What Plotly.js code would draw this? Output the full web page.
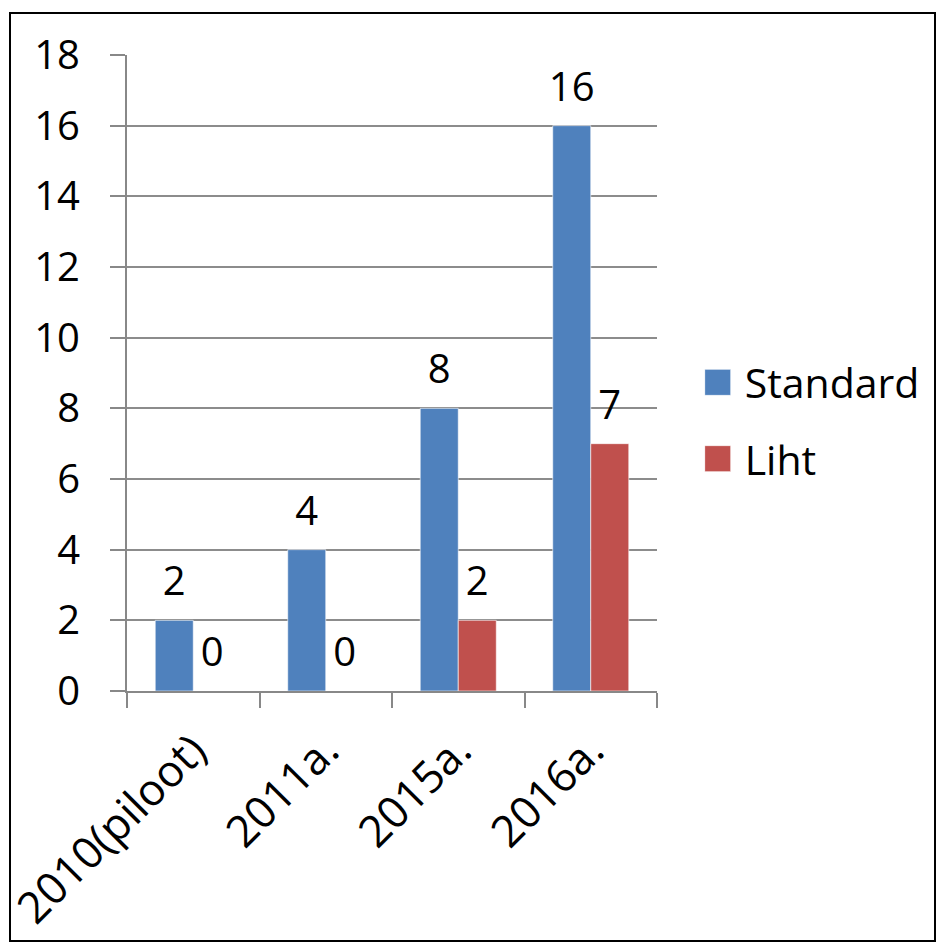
<!DOCTYPE html>
<html>
<head>
<meta charset="utf-8">
<script src="https://cdn.plot.ly/plotly-3.0.1.min.js"></script>
<style>
  body { margin: 0; background: #fff; }
  #frame { position: absolute; left: 9px; top: 12px; width: 927px; height: 930px; border: 2px solid #000; box-sizing: border-box; pointer-events: none; }
  #chart { position: absolute; left: 0; top: 0; width: 938px; height: 944px; }
</style>
</head>
<body>
<div id="chart"></div>
<div id="frame"></div>
<script>
const categories = ["2010(piloot)", "2011a.", "2015a.", "2016a."];
const standardValues = [2, 4, 8, 16];
const lihtValues = [0, 0, 2, 7];
const yTicks = [0, 2, 4, 6, 8, 10, 12, 14, 16, 18];

const FONT = "Open Sans, DejaVu Sans, sans-serif";
const FS = 40;

const traces = [
  {
    type: "bar", name: "Standard", x: categories, y: standardValues,
    text: standardValues.map(String), textposition: "outside", cliponaxis: false,
    constraintext: "none",
    textfont: { family: FONT, size: FS, color: "#000" },
    marker: { color: "#4F81BD", line: { color: "rgba(255,255,255,0.6)", width: 1 } },
    legendgroup: "a", hoverinfo: "none"
  },
  {
    type: "bar", name: "Liht", x: categories, y: lihtValues,
    text: lihtValues.map(String), textposition: "outside", cliponaxis: false,
    constraintext: "none",
    textfont: { family: FONT, size: FS, color: "#000" },
    marker: { color: "#C0504D", line: { color: "rgba(255,255,255,0.6)", width: 1 } },
    legendgroup: "b", hoverinfo: "none"
  }
];

const layout = {
  width: 938, height: 944,
  margin: { l: 127, r: 281, t: 55, b: 253 },
  paper_bgcolor: "#fff", plot_bgcolor: "#fff",
  font: { family: FONT, size: FS, color: "#000" },
  barmode: "group", bargap: 0.426, bargroupgap: 0,
  showlegend: true,
  legend: {
    x: 1.09, y: 0.425, xanchor: "left", yanchor: "middle",
    font: { family: FONT, size: 41, color: "#000" },
    traceorder: "grouped", tracegroupgap: 20,
    bgcolor: "rgba(0,0,0,0)"
  },
  xaxis: {
    type: "category", tickangle: -45,
    showline: true, linecolor: "#888", linewidth: 2,
    ticks: "outside", tickson: "boundaries", ticklen: 15, tickcolor: "#888", tickwidth: 2,
    showgrid: false, zeroline: false, ticklabelstandoff: 14,
    tickfont: { family: FONT, size: 44, color: "#000" }
  },
  yaxis: {
    range: [0, 18], tickvals: yTicks, ticktext: yTicks.map(String),
    showline: true, linecolor: "#888", linewidth: 2,
    ticks: "outside", ticklen: 15, tickcolor: "#888", tickwidth: 2,
    showgrid: true, gridcolor: "#8c8c8c", gridwidth: 2,
    zeroline: false, ticklabelstandoff: 22,
    tickfont: { family: FONT, size: FS, color: "#000" }
  }
};

Plotly.newPlot("chart", traces, layout, { displayModeBar: false, staticPlot: true }).then(function (gd) {
  gd.querySelectorAll(".legendpoints path").forEach(function (p) {
    p.setAttribute("d", "M-20,-13H6V13H-20Z");
  });
  gd.querySelectorAll(".bars .point text").forEach(function (t) {
    const tr = t.getAttribute("transform") || "";
    t.setAttribute("transform", "translate(0,-10) " + tr);
  });
});
</script>
</body>
</html>
